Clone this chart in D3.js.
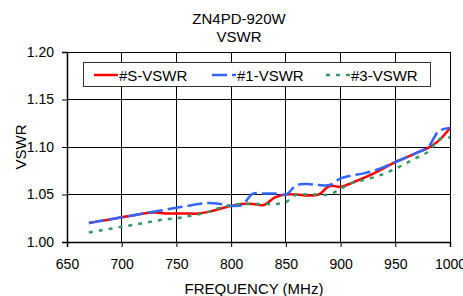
<!DOCTYPE html>
<html>
<head>
<meta charset="utf-8">
<script src="https://cdn.jsdelivr.net/npm/d3@7"></script>
<style>
  body { margin: 0; background: #fff; }
  text { font-family: Arial, "Liberation Sans", sans-serif; fill: #000; }
</style>
</head>
<body>
<div class="chart"></div>
<script>
var values = { width: 463, height: 296, left: 67, right: 13, top: 52, bottom: 54 };

// frequency points (MHz)
var freqs = [670, 680, 690, 700, 710, 720, 730, 740, 750, 760, 770, 780, 790, 800, 810, 820, 830, 840,
  850, 860, 870, 880, 890, 900, 910, 920, 930, 940, 950, 960, 970, 980, 990, 1000];

var vswrS = [1.020, 1.022, 1.024, 1.026, 1.028, 1.030, 1.031, 1.030, 1.030, 1.030, 1.030, 1.032, 1.035, 1.038, 1.040, 1.040, 1.039, 1.047,
  1.050, 1.050, 1.049, 1.050, 1.059, 1.058, 1.062, 1.067, 1.072, 1.078, 1.084, 1.089, 1.094, 1.099, 1.107, 1.120];

var vswr1 = [1.020, 1.022, 1.024, 1.026, 1.028, 1.030, 1.032, 1.034, 1.036, 1.038, 1.040, 1.041, 1.040, 1.038, 1.039, 1.051, 1.051, 1.051,
  1.050, 1.060, 1.061, 1.060, 1.060, 1.067, 1.070, 1.072, 1.075, 1.079, 1.084, 1.089, 1.094, 1.100, 1.117, 1.120];

var vswr3 = [1.010, 1.012, 1.014, 1.016, 1.018, 1.020, 1.022, 1.024, 1.025, 1.027, 1.029, 1.032, 1.036, 1.039, 1.040, 1.040, 1.040, 1.040,
  1.042, 1.050, 1.050, 1.050, 1.050, 1.056, 1.062, 1.065, 1.068, 1.072, 1.077, 1.083, 1.089, 1.095, 1.108, 1.110];

var seriesNames = ["#S-VSWR", "#1-VSWR", "#3-VSWR"];
var xTicks = [650, 700, 750, 800, 850, 900, 950, 1000];
var yTicks = [1.00, 1.05, 1.10, 1.15, 1.20];

var series = [
  { name: seriesNames[0], values: vswrS, color: "#ff0000", dash: null },
  { name: seriesNames[1], values: vswr1, color: "#3366ff", dash: "15,5" },
  { name: seriesNames[2], values: vswr3, color: "#339966", dash: "4,6" }
];

var svg = d3.select(".chart").append("svg")
  .attr("width", values.width)
  .attr("height", values.height);

var x = d3.scaleLinear().domain([650, 1000]).range([values.left, values.width - values.right]);
var y = d3.scaleLinear().domain([1.0, 1.2]).range([values.height - values.bottom, values.top]);

// titles
svg.append("text").attr("x", 239).attr("y", 24).attr("text-anchor", "middle")
  .style("font-size", "15px").text("ZN4PD-920W");
svg.append("text").attr("x", 239).attr("y", 42).attr("text-anchor", "middle")
  .style("font-size", "15px").text("VSWR");

// grid lines
svg.append("g").selectAll("line").data(yTicks).enter().append("line")
  .attr("x1", x(650)).attr("x2", x(1000))
  .attr("y1", d => y(d)).attr("y2", d => y(d))
  .attr("stroke", "#000").attr("stroke-width", 1).attr("shape-rendering", "crispEdges");
svg.append("g").selectAll("line").data(xTicks).enter().append("line")
  .attr("x1", d => x(d)).attr("x2", d => x(d))
  .attr("y1", y(1.0)).attr("y2", y(1.2))
  .attr("stroke", "#000").attr("stroke-width", 1).attr("shape-rendering", "crispEdges");

// axes
var yAxis = d3.axisLeft(y).tickValues(yTicks).tickFormat(d3.format(".2f")).tickSize(5).tickPadding(8);
var xAxis = d3.axisBottom(x).tickValues(xTicks).tickFormat(d3.format("d")).tickSize(5).tickPadding(12);

var gy = svg.append("g").attr("transform", "translate(" + values.left + ",0)").call(yAxis);
var gx = svg.append("g").attr("transform", "translate(0," + y(1.0) + ")").call(xAxis);
[gx, gy].forEach(g => {
  g.select(".domain").attr("stroke", "#000").attr("stroke-width", 1.5);
  g.selectAll(".tick line").attr("stroke", "#000");
  g.selectAll(".tick text").style("font-size", "14px").attr("fill", "#000")
    .style("font-family", "Arial, 'Liberation Sans', sans-serif");
});

// axis labels
svg.append("text").attr("x", 254).attr("y", 294).attr("text-anchor", "middle")
  .style("font-size", "15px").text("FREQUENCY (MHz)");
svg.append("text").attr("transform", "translate(26,147) rotate(-90)").attr("text-anchor", "middle")
  .style("font-size", "15px").text("VSWR");

// smoothed lines like the original spreadsheet chart
var line = d3.line()
  .x((d, i) => x(freqs[i]))
  .y(d => y(d))
  .curve(d3.curveCatmullRom.alpha(0.5));

svg.append("g").selectAll("path").data(series).enter().append("path")
  .attr("d", d => line(d.values))
  .attr("fill", "none")
  .attr("stroke", d => d.color)
  .attr("stroke-width", 2.5)
  .attr("stroke-dasharray", d => d.dash);

// legend
var legend = svg.append("g");
legend.append("rect").attr("x", 83.5).attr("y", 62.5).attr("width", 347).attr("height", 24)
  .attr("fill", "#fff").attr("stroke", "#333").attr("stroke-width", 1);
var legendX = [94, 212, 326];
var items = legend.selectAll("g.item").data(series).enter().append("g")
  .attr("transform", (d, i) => "translate(" + legendX[i] + ",75)");
items.append("line").attr("x1", 0).attr("x2", 24).attr("y1", 0).attr("y2", 0)
  .attr("stroke", d => d.color).attr("stroke-width", 2.5)
  .attr("stroke-dasharray", d => d.dash);
items.append("text").attr("x", 25).attr("y", 5.5).style("font-size", "15px").text(d => d.name);
</script>
</body>
</html>
